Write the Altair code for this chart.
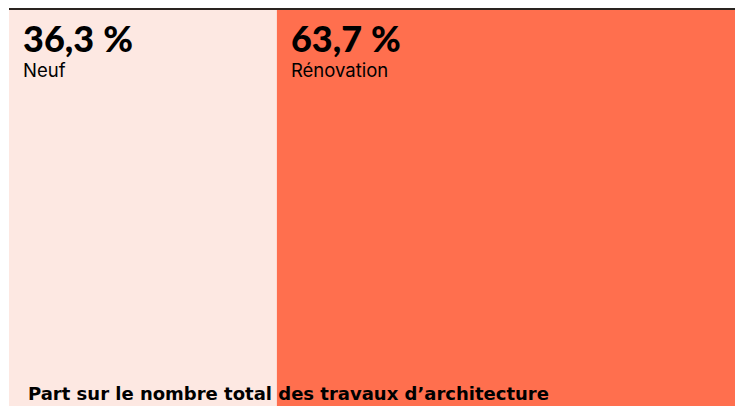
import altair as alt
import pandas as pd

categories = ["Neuf", "Rénovation"]
values = [36.3, 63.7]
value_labels = ["36,3\u202f%", "63,7\u202f%"]
colors = ["#FDE8E2", "#FF6F4E"]
footer = "Part sur le nombre total des travaux d\u2019architecture"

df = pd.DataFrame({"cat": categories, "value": values, "label": value_labels})
df["end"] = df["value"].cumsum()
df["start"] = df["end"] - df["value"]

W, H = 726, 398
xscale = alt.Scale(domain=[0, 100], range=[0, 738])

base = alt.Chart(df)

bars = base.mark_bar(stroke=None).encode(
    x=alt.X("start:Q", scale=xscale, axis=None),
    x2="end:Q",
    y=alt.value(2),
    y2=alt.value(H + 10),
    color=alt.Color("cat:N", scale=alt.Scale(domain=categories, range=colors), legend=None),
)

pct = base.mark_text(
    align="left", baseline="alphabetic", dx=14, font="Lato", fontWeight=900, fontSize=36, color="#000000"
).encode(
    x=alt.X("start:Q", scale=xscale),
    y=alt.value(44),
    text="label:N",
)

names = base.mark_text(
    align="left", baseline="alphabetic", dx=14, font="Inter", fontSize=18.5, color="#000000"
).encode(
    x=alt.X("start:Q", scale=xscale),
    y=alt.value(69),
    text="cat:N",
)

topline = alt.Chart(pd.DataFrame({"a": [0]})).mark_rule(color="#2a2420", strokeWidth=2).encode(
    x=alt.value(0), x2=alt.value(W + 20), y=alt.value(1)
)

foot = alt.Chart(pd.DataFrame({"t": [footer]})).mark_text(
    align="left", baseline="alphabetic", font="DejaVu Sans", fontWeight="bold", fontSize=18, color="#000000"
).encode(x=alt.value(19), y=alt.value(392), text="t:N")

chart = alt.layer(bars, topline, pct, names, foot).properties(
    width=W, height=H,
    autosize=alt.AutoSizeParams(type="none"),
    padding={"left": 1, "top": 0, "right": 0, "bottom": 0},
).configure_view(stroke=None)

chart.save("out.html", embed_options={"renderer": "svg", "actions": False})
